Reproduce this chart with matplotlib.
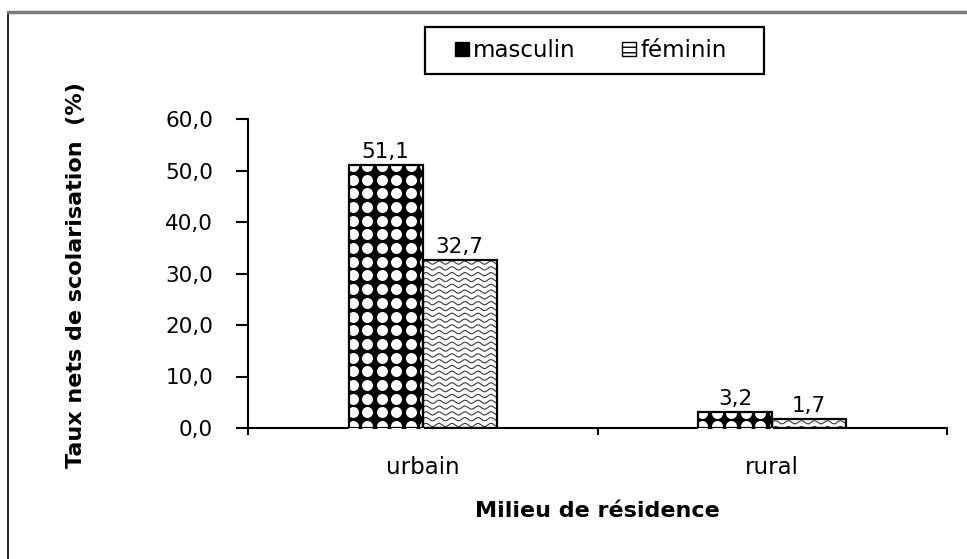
import numpy as np
import matplotlib.pyplot as plt
from matplotlib.lines import Line2D
from matplotlib.patches import Patch, Rectangle
from matplotlib.transforms import IdentityTransform

plt.rcParams['font.family'] = 'DejaVu Sans'

# data
categories = ['urbain', 'rural']
masculin = [51.1, 3.2]
feminin = [32.7, 1.7]
y_ticks = [0, 10, 20, 30, 40, 50, 60]
y_tick_labels = ['0,0', '10,0', '20,0', '30,0', '40,0', '50,0', '60,0']
series_names = ['masculin', 'féminin']

W, H = 967, 559
fig = plt.figure(figsize=(W / 100, H / 100), dpi=100)
ax = fig.add_axes([248 / W, 1 - 428 / H, (947 - 248) / W, (428 - 119) / H])

x = np.arange(len(categories))
w = 0.212
ax.set_xlim(-0.5, len(categories) - 0.5)
ax.set_ylim(0, 60)

bars_m = ax.bar(x - w / 2, masculin, w, color='black', edgecolor='none', zorder=2)
bars_f = ax.bar(x + w / 2, feminin, w, color='white', edgecolor='none', zorder=2)

# texture for masculin: white round dots on black
for bar in bars_m:
    bb = bar.get_window_extent()
    xs = np.arange(bb.x0 + 4, bb.x1 + 8, 14.5)
    ys = np.arange(bb.y1 - 1, bb.y0 - 8, -13.7)
    gx, gy = np.meshgrid(xs, ys)
    dots, = ax.plot(gx.ravel(), gy.ravel(), 'o', ms=7.9, mfc='white', mec='none',
                    transform=IdentityTransform(), zorder=3)
    dots.set_clip_path(bar)

# texture for feminin: thin wavy lines on white
for bar in bars_f:
    bb = bar.get_window_extent()
    px = np.linspace(bb.x0, bb.x1, 200)
    for yk in np.arange(bb.y1 - 3, bb.y0 - 4, -5.8):
        wave, = ax.plot(px, yk + 1.6 * np.sin(2 * np.pi * (px - bb.x0) / 13.0),
                        color='#3a3a3a', lw=0.8, transform=IdentityTransform(), zorder=3)
        wave.set_clip_path(bar)

# outlines on top
ax.bar(x - w / 2, masculin, w, fill=False, edgecolor='black', lw=1.6, zorder=4)
ax.bar(x + w / 2, feminin, w, fill=False, edgecolor='black', lw=1.6, zorder=4)

# value labels
for xs_, vals in [(x - w / 2, masculin), (x + w / 2, feminin)]:
    for xi, v in zip(xs_, vals):
        ax.annotate(f"{v:.1f}".replace('.', ','), (xi, v), xytext=(0, 5),
                    textcoords='offset points', ha='center', va='baseline',
                    fontsize=15.5, color='black')

# axes styling
for side in ['top', 'right']:
    ax.spines[side].set_visible(False)
for side in ['left', 'bottom']:
    ax.spines[side].set_linewidth(1.5)

ax.set_yticks(y_ticks)
ax.set_yticklabels(y_tick_labels)
ax.tick_params(axis='y', direction='out', length=8.6, width=1.5, pad=16.5, labelsize=15.5)

ax.set_xticks(np.arange(-0.5, len(categories), 1.0))
ax.set_xticklabels([])
ax.tick_params(axis='x', which='major', direction='out', length=5, width=1.5)
ax.set_xticks(x, minor=True)
ax.set_xticklabels(categories, minor=True)
ax.tick_params(axis='x', which='minor', length=0, pad=20, labelsize=16.5)

fig.text(76 / W, 1 - 275 / H, 'Taux nets de scolarisation  (%)', rotation=90,
         ha='center', va='center', fontsize=16, fontweight='bold')
fig.text(597 / W, 1 - 517 / H, 'Milieu de résidence', ha='center', va='baseline',
         fontsize=16, fontweight='bold')

# legend box and entries
fig.add_artist(Rectangle((425 / W, 1 - 74 / H), (764 - 425) / W, (74 - 27) / H,
                         transform=fig.transFigure, fill=False, edgecolor='black', lw=1.6))
handles = [Patch(facecolor='black', edgecolor='black'),
           Patch(facecolor='white', edgecolor='black', hatch='---')]
fig.legend(handles, series_names, loc='center left', bbox_to_anchor=(455 / W, 1 - 50.5 / H),
           ncol=2, frameon=False, fontsize=16.5, handlelength=0.6, handleheight=0.6,
           handletextpad=0.2, columnspacing=2.0, borderpad=0, borderaxespad=0)

# outer chart frame
fig.add_artist(Line2D([8 / W, 8 / W], [0, 1 - 12 / H], transform=fig.transFigure,
                      color='black', lw=1.2))
fig.add_artist(Line2D([8 / W, 1], [1 - 12 / H, 1 - 12 / H], transform=fig.transFigure,
                      color='#7a7a7a', lw=2.5))

fig.savefig('out.png', dpi=100)
